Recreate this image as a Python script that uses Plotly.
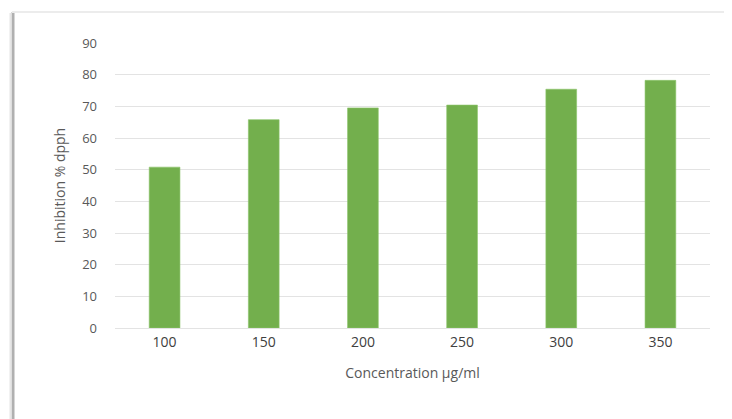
import plotly.graph_objects as go

categories = ["100", "150", "200", "250", "300", "350"]
inhibition = [50.8, 65.8, 69.5, 70.4, 75.4, 78.2]
y_ticks = [0, 10, 20, 30, 40, 50, 60, 70, 80, 90]

# page body has an 8px margin, so the figure is drawn at (8, 8)
OFF = 8
W, H = 732 - OFF, 419 - OFF
L, R, T, B = 115 - OFF, 22, 43 - OFF, 91
pw, ph = W - L - R, H - T - B

def px(x):
    return (x - OFF - L) / pw

def py(y):
    return (H - B - (y - OFF)) / ph

fig = go.Figure(go.Bar(
    x=categories, y=inhibition,
    marker=dict(color="#73AF4D", line=dict(color="#8cc46a", width=0.6)),
    hoverinfo="x+y",
))

fig.update_layout(
    width=W, height=H,
    margin=dict(l=L, r=R, t=T, b=B),
    paper_bgcolor="white", plot_bgcolor="white",
    bargap=0.69,
    showlegend=False,
    font=dict(family="Open Sans, Liberation Sans, sans-serif", color="#595959"),
    xaxis=dict(
        type="category", showgrid=False, zeroline=False, showline=False,
        ticks="", tickfont=dict(size=14, color="#404040"), ticklabelstandoff=4,
        title=dict(text="Concentration µg/ml", font=dict(size=14, color="#595959"), standoff=18),
    ),
    yaxis=dict(
        range=[0, 90], tickvals=y_ticks, showgrid=True, gridcolor="#e3e3e3", gridwidth=1.2,
        zeroline=True, zerolinecolor="#e3e3e3", zerolinewidth=1.2,
        showline=False, ticks="", tickfont=dict(size=13, color="#595959"), ticklabelstandoff=17,
        title=dict(text="Inhibition % dpph", font=dict(size=14, color="#595959"), standoff=13),
    ),
    shapes=[
        dict(type="line", xref="paper", yref="paper", x0=px(13), x1=px(13), y0=py(12), y1=py(419 + 20),
             line=dict(color="#b0b0b0", width=3), layer="below"),
        dict(type="line", xref="paper", yref="paper", x0=px(10.5), x1=px(10.5), y0=py(13), y1=py(419 + 20),
             line=dict(color="#e6e6e6", width=2), layer="below"),
        dict(type="line", xref="paper", yref="paper", x0=px(12), x1=px(732 + 20), y0=py(12), y1=py(12),
             line=dict(color="#ececec", width=2), layer="below"),
    ],
)

fig.write_html("out.html")
